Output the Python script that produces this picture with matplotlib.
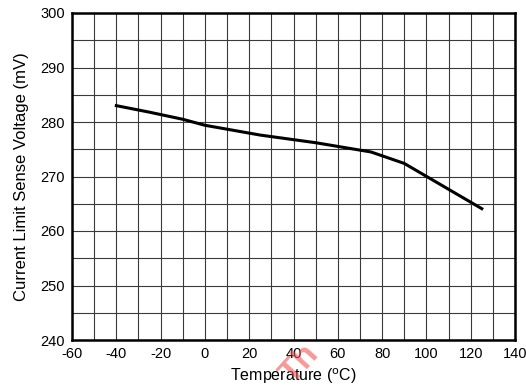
import matplotlib.pyplot as plt

plt.rcParams['font.family'] = ['Liberation Sans', 'DejaVu Sans']
plt.rcParams['axes.unicode_minus'] = False

# Current limit sense voltage vs temperature
temp_c = [-40, -25, -10, 0, 25, 50, 75, 90, 125]
sense_mv = [283.0, 281.8, 280.5, 279.4, 277.6, 276.2, 274.5, 272.4, 264.1]

x_ticks = list(range(-60, 141, 20))
y_ticks = list(range(240, 301, 10))

fig = plt.figure(figsize=(5.26, 3.87), dpi=100)
ax = fig.add_axes([72 / 526, 1 - 340 / 387, (515 - 72) / 526, (340 - 13) / 387])

ax.plot(temp_c, sense_mv, color='black', lw=2.2, zorder=3)

ax.set_xlim(-60, 140)
ax.set_ylim(240, 300)
ax.set_xticks(x_ticks)
ax.set_yticks(y_ticks)
ax.set_xticks(range(-50, 140, 20), minor=True)
ax.set_yticks(range(245, 300, 10), minor=True)
ax.grid(True, which='both', color='#3a3a3a', lw=0.8)
ax.tick_params(which='both', length=0, labelsize=10.5, pad=5)
for s in ax.spines.values():
    s.set_linewidth(1.8)

ax.set_xlabel('Temperature ($^{\\mathrm{o}}$C)', fontsize=11.5, labelpad=4)
ax.set_ylabel('Current Limit Sense Voltage (mV)', fontsize=12, labelpad=8)

# faint watermark near the bottom
fig.text(0.57, 0.06, 'Th', color='#ee5555', alpha=0.6, fontsize=24,
         rotation=48, ha='center', va='center', zorder=0, fontweight='bold')

fig.savefig('out.png', dpi=100)
